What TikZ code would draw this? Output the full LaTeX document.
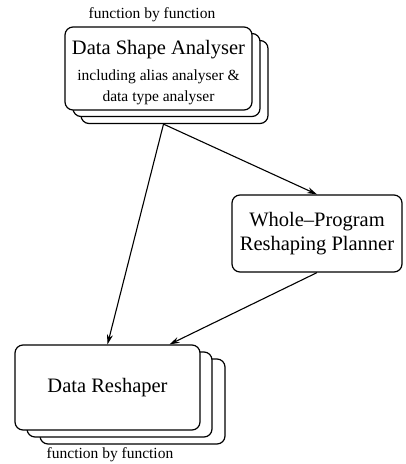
\documentclass[tikz,border=0pt]{standalone}
\usepackage{fontspec}
\setmainfont{Liberation Serif}
\usetikzlibrary{arrows.meta}

\tikzset{
    box/.style={draw, line width=1.2pt, rounded corners=8pt, fill=white, align=center, inner sep=0pt},
    big/.style={font=\fontsize{20.5}{24}\selectfont},
    small/.style={align=center, font=\fontsize{15.5}{21}\selectfont},
    arr/.style={-{Stealth[length=10pt,width=6pt]}, line width=1.1pt}
}

\begin{document}
\begin{tikzpicture}[x=1pt,y=-1pt]
    \useasboundingbox (0,0) rectangle (405,464);

    \node [small] (toplabel) at (152,15) {function by function};
    \node [box, minimum width=187, minimum height=83] (dsa3) at (174.5,82) {};
    \node [box, minimum width=187, minimum height=83] (dsa2) at (166.5,75) {};
    \node [box, minimum width=187, minimum height=83] (dsa) at (158.5,68.5) {};
    \node [big] (dsatitle) at (158.5,50) {Data Shape Analyser};
    \node [small] (dsanote) at (158.5,87) {including alias analyser \&\\data type analyser};

    \node [box, big, minimum width=170, minimum height=77] (planner) at (317,233.5) {Whole--Program\\Reshaping Planner};

    \node [box, minimum width=185, minimum height=85] (dr3) at (132.5,401.5) {};
    \node [box, minimum width=185, minimum height=85] (dr2) at (119.5,394.5) {};
    \node [box, big, minimum width=185, minimum height=85] (dr) at (107.5,387.5) {Data Reshaper};
    \node [small] (botlabel) at (110,455) {function by function};

    \draw [arr] ([xshift=-11]dsa3.south) -- (dr.north);
    \draw [arr] ([xshift=-11]dsa3.south) -- (planner.north);
    \draw [arr] (planner.south) -- ([xshift=62]dr.north);

\end{tikzpicture}
\end{document}
